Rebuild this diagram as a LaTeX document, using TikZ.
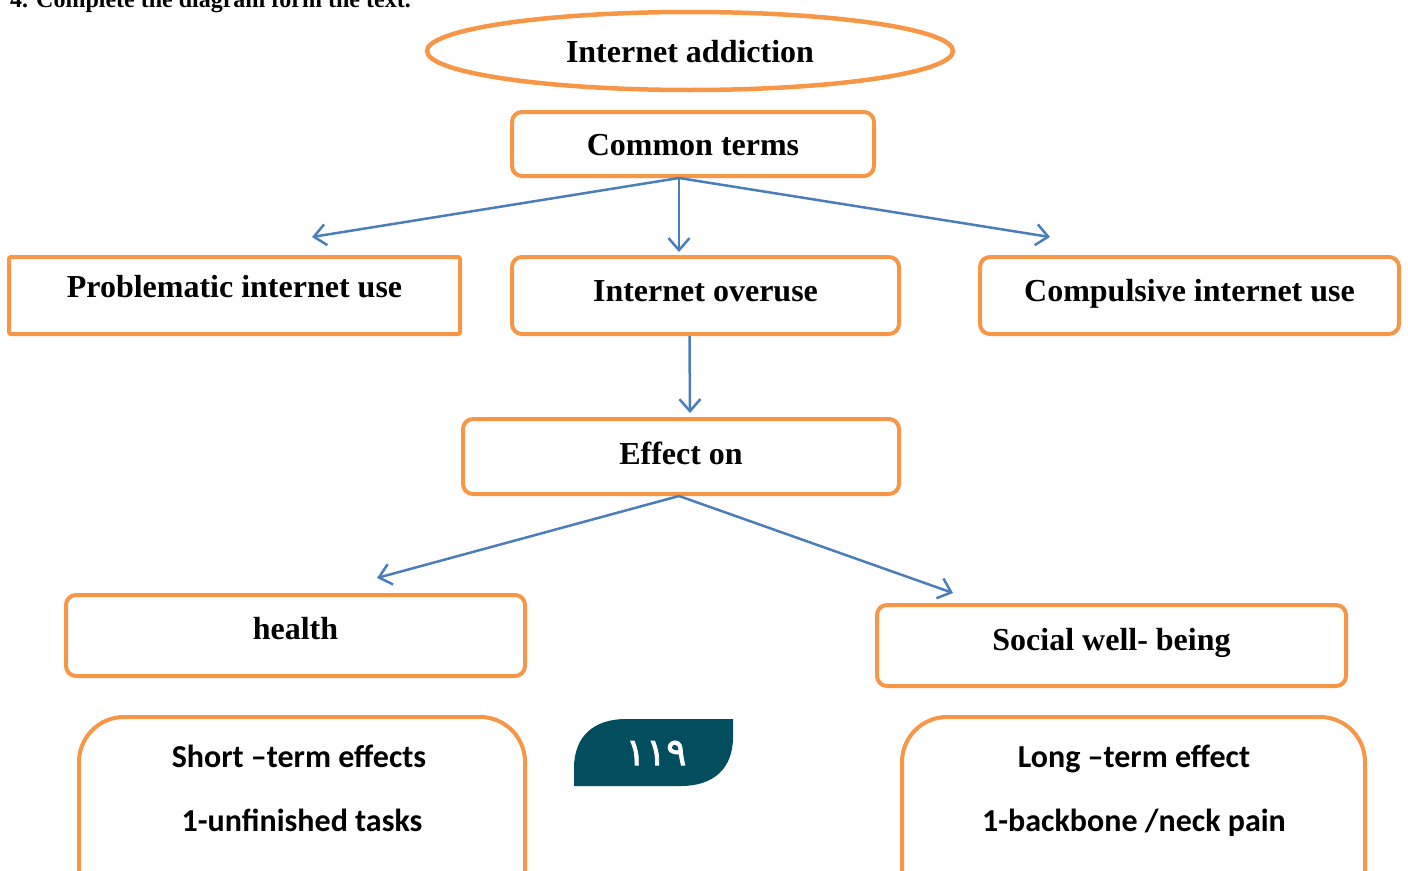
\documentclass[tikz,border=0pt]{standalone}
\usepackage{fontspec}
\setmainfont{Liberation Serif}
\newfontfamily\calibrifont{Carlito}
\newfontfamily\arabicfont[Script=Arabic,FakeBold=2]{DejaVu Sans}
\usepackage{tikz}
\usetikzlibrary{arrows.meta,shapes.geometric}

\definecolor{boxorange}{HTML}{F79646}
\definecolor{arrowblue}{HTML}{4A7EBB}
\definecolor{pageteal}{HTML}{024E5F}

\tikzset{
  termbox/.style={draw=boxorange, line width=4pt, rounded corners=10pt, inner sep=0pt,
    font=\fontsize{32}{38}\selectfont\bfseries, text height=22pt, text depth=#1},
  termbox/.default=6pt,
  effectbox/.style={draw=boxorange, line width=4pt, rounded corners=45pt, anchor=north,
    minimum height=300pt, inner sep=0pt},
  effecttext/.style={font=\calibrifont\fontsize{32}{38}\selectfont\bfseries, anchor=base},
  termarrow/.style={draw=arrowblue, line width=2.5pt, -{Straight Barb[length=12pt,width=21pt]}},
}

\begin{document}
\begin{tikzpicture}[x=1pt,y=-1pt]
    \useasboundingbox (0,0) rectangle (1408,870);

    % task line, cut by the page edge
    \node[anchor=base west, inner sep=0pt, font=\fontsize{24}{28}\selectfont\bfseries] (task)
        at (10,7) {4. Complete the diagram form the text.};

    % top of the tree
    \node[termbox=0pt, ellipse, line width=4.5pt, minimum width=526pt, minimum height=78pt] (addiction)
        at (690,51) {Internet addiction};
    \node[termbox=0pt, minimum width=362pt, minimum height=64pt] (common)
        at (693,144) {Common terms};

    % the three terms
    \node[termbox=18pt, rounded corners=2pt, minimum width=451pt, minimum height=77pt] (problematic)
        at (234.5,295.5) {Problematic internet use};
    \node[termbox=10pt, minimum width=387pt, minimum height=77pt] (overuse)
        at (705.5,295.5) {Internet overuse};
    \node[termbox=10pt, minimum width=419pt, minimum height=77pt] (compulsive)
        at (1189.5,295.5) {Compulsive internet use};

    \node[termbox=6pt, minimum width=436pt, minimum height=75pt] (effect)
        at (681,456.5) {Effect on};

    \node[termbox=14pt, minimum width=459pt, minimum height=81pt] (health)
        at (295.5,635.5) {health};
    \node[termbox=12pt, minimum width=469pt, minimum height=81pt] (social)
        at (1111.5,645.5) {Social well- being};

    % effect lists
    \node[effectbox, minimum width=446pt] (shortbox) at (302,715) {};
    \node[effecttext] (shorttitle) at (299,767) {Short –term effects};
    \node[effecttext] (shortitem) at (302,831) {1-unfinished tasks};

    \node[effectbox, minimum width=463pt] (longbox) at (1133.5,715) {};
    \node[effecttext] (longtitle) at (1134,767) {Long –term effect};
    \node[effecttext] (longitem) at (1134,831) {1-backbone /neck pain};

    % page number badge
    \fill[pageteal] (574,786) -- (574,768) .. controls (574,736) and (594,719) .. (626,719)
        -- (733,719) -- (733,737) .. controls (733,769) and (713,786) .. (681,786) -- cycle;
    \node[text=white, inner sep=0pt, font=\arabicfont\fontsize{38}{40}\selectfont] (pagenum)
        at (656,753) {١١٩};

    % arrows
    \coordinate (termsplit) at ([xshift=-14pt]common.south);
    \coordinate (lefttip) at (312,237);
    \coordinate (midtip) at (679,252);
    \coordinate (righttip) at (1050,237);
    \coordinate (healthtip) at (377,578);
    \coordinate (socialtip) at (953,593);

    \draw[termarrow] (termsplit) -- (lefttip);
    \draw[termarrow] (termsplit) -- (midtip);
    \draw[termarrow] (termsplit) -- (righttip);
    \draw[termarrow] ([xshift=-16pt]overuse.south) -- ([xshift=9pt,yshift=4pt]effect.north);
    \draw[termarrow] ([xshift=-2pt]effect.south) -- (healthtip);
    \draw[termarrow] ([xshift=-2pt]effect.south) -- (socialtip);
\end{tikzpicture}
\end{document}
